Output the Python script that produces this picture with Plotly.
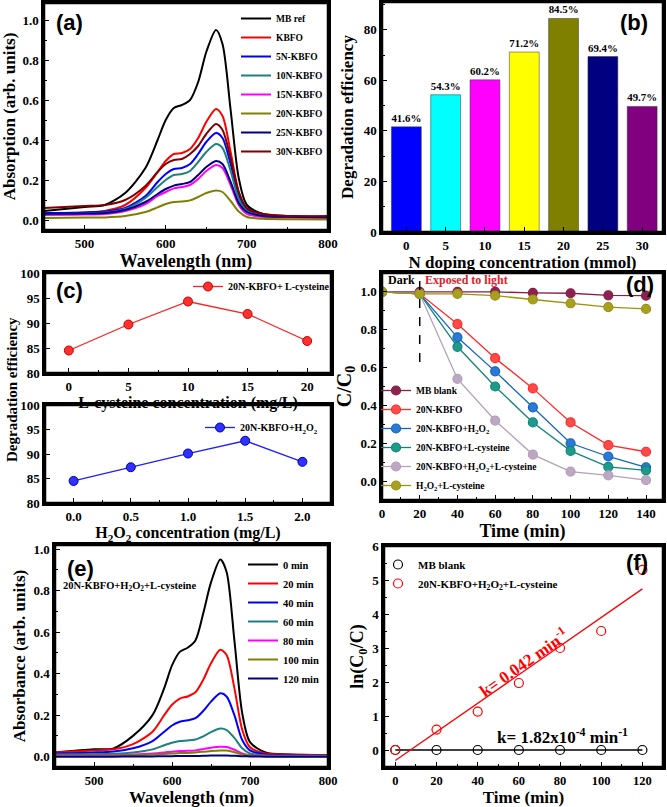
import numpy as np
import plotly.graph_objects as go

W, H = 667, 807
SERIF = "Liberation Serif"
SANS = "Liberation Sans"

# ---------------- data ----------------
# (a) UV-vis spectra of catalysts
wl = [450, 500, 525, 550, 575, 590, 600, 610, 620, 630, 640, 650, 662, 670, 680, 690, 700, 720, 750, 800]
a_names = ["MB ref", "KBFO", "5N-KBFO", "10N-KBFO", "15N-KBFO", "20N-KBFO", "25N-KBFO", "30N-KBFO"]
a_colors = ["#000000", "#FF0000", "#0000FF", "#1F8080", "#FF00FF", "#808000", "#000080", "#800000"]
a_mbref = [0.045, 0.065, 0.075, 0.135, 0.26, 0.40, 0.50, 0.56, 0.575, 0.60, 0.69, 0.84, 0.95, 0.88, 0.55, 0.21, 0.075, 0.03, 0.02, 0.015]
a_kbfo = [0.035, 0.038, 0.045, 0.075, 0.16, 0.24, 0.295, 0.33, 0.335, 0.355, 0.41, 0.49, 0.555, 0.52, 0.34, 0.14, 0.055, 0.025, 0.018, 0.015]
a_5n = [0.035, 0.038, 0.042, 0.06, 0.12, 0.19, 0.23, 0.255, 0.26, 0.28, 0.33, 0.39, 0.435, 0.41, 0.28, 0.12, 0.05, 0.022, 0.018, 0.015]
a_10n = [0.03, 0.033, 0.037, 0.055, 0.11, 0.165, 0.20, 0.225, 0.23, 0.245, 0.29, 0.34, 0.38, 0.36, 0.245, 0.105, 0.045, 0.02, 0.016, 0.014]
a_15n = [0.025, 0.027, 0.03, 0.045, 0.08, 0.12, 0.14, 0.158, 0.165, 0.175, 0.205, 0.245, 0.275, 0.26, 0.175, 0.075, 0.03, 0.015, 0.012, 0.01]
a_20n = [0.01, 0.012, 0.013, 0.02, 0.04, 0.063, 0.08, 0.09, 0.092, 0.098, 0.115, 0.135, 0.148, 0.14, 0.095, 0.042, 0.015, 0.006, 0.004, 0.003]
a_25n = [0.03, 0.032, 0.035, 0.05, 0.09, 0.13, 0.155, 0.172, 0.18, 0.19, 0.225, 0.265, 0.295, 0.28, 0.19, 0.085, 0.04, 0.02, 0.016, 0.014]
a_30n = [0.06, 0.07, 0.075, 0.10, 0.17, 0.24, 0.28, 0.30, 0.305, 0.33, 0.37, 0.43, 0.48, 0.45, 0.31, 0.14, 0.06, 0.03, 0.02, 0.02]
a_series = [a_mbref, a_kbfo, a_5n, a_10n, a_15n, a_20n, a_25n, a_30n]

# (b) degradation efficiency vs N doping
doping = ["0", "5", "10", "15", "20", "25", "30"]
efficiency = [41.6, 54.3, 60.2, 71.2, 84.5, 69.4, 49.7]
bar_colors = ["#0000FF", "#00FFFF", "#FF00FF", "#FFFF00", "#808000", "#000080", "#800080"]

# (c) effect of additives
cys_conc = [0, 5, 10, 15, 20]
cys_eff = [84.5, 89.7, 94.3, 91.8, 86.4]
h2o2_conc = [0.0, 0.5, 1.0, 1.5, 2.0]
h2o2_eff = [84.5, 87.3, 90.1, 92.7, 88.4]

# (d) kinetics C/C0
t_d = [0, 20, 40, 60, 80, 100, 120, 140]
d_names = ["MB blank", "20N-KBFO", "20N-KBFO+H<sub>2</sub>O<sub>2</sub>", "20N-KBFO+L-cysteine",
           "20N-KBFO+H<sub>2</sub>O<sub>2</sub>+L-cysteine", "H<sub>2</sub>O<sub>2</sub>+L-cysteine"]
d_blank = [1.0, 1.0, 1.0, 1.0, 0.995, 0.993, 0.982, 0.98]
d_kbfo = [1.0, 0.99, 0.83, 0.65, 0.49, 0.31, 0.19, 0.155]
d_h2o2 = [1.0, 0.99, 0.76, 0.58, 0.39, 0.20, 0.13, 0.073]
d_cys = [1.0, 0.99, 0.71, 0.50, 0.31, 0.16, 0.075, 0.057]
d_both = [1.0, 0.99, 0.54, 0.32, 0.14, 0.05, 0.03, 0.005]
d_nocat = [1.0, 0.99, 0.99, 0.98, 0.96, 0.94, 0.92, 0.91]
d_series = [d_blank, d_kbfo, d_h2o2, d_cys, d_both, d_nocat]
d_line = ["#8B1E45", "#FF2A2A", "#1565C0", "#12857A", "#B4A0B8", "#9A9410"]
d_fill = ["#8B2252", "#FF4A4A", "#2A7AD5", "#1E9A8C", "#BCA8C2", "#A8A020"]
light_on = 20

# (e) spectra over time
e_names = ["0 min", "20 min", "40 min", "60 min", "80 min", "100 min", "120 min"]
e_colors = ["#000000", "#FF0000", "#0000FF", "#1F8080", "#FF00FF", "#808000", "#000080"]
e_0 = [0.02, 0.035, 0.04, 0.10, 0.20, 0.33, 0.44, 0.505, 0.525, 0.56, 0.69, 0.84, 0.95, 0.89, 0.56, 0.21, 0.07, 0.02, 0.01, 0.008]
e_20 = [0.02, 0.03, 0.035, 0.06, 0.12, 0.20, 0.25, 0.28, 0.29, 0.31, 0.37, 0.45, 0.515, 0.49, 0.33, 0.13, 0.045, 0.015, 0.01, 0.008]
e_40 = [0.015, 0.02, 0.025, 0.04, 0.075, 0.12, 0.15, 0.168, 0.175, 0.185, 0.22, 0.265, 0.305, 0.29, 0.20, 0.08, 0.03, 0.01, 0.007, 0.006]
e_60 = [0.01, 0.012, 0.014, 0.02, 0.035, 0.055, 0.067, 0.075, 0.078, 0.083, 0.098, 0.118, 0.135, 0.128, 0.09, 0.04, 0.015, 0.006, 0.004, 0.004]
e_80 = [0.005, 0.006, 0.007, 0.01, 0.015, 0.02, 0.024, 0.027, 0.028, 0.03, 0.036, 0.043, 0.048, 0.046, 0.033, 0.015, 0.007, 0.004, 0.003, 0.003]
e_100 = [0.003, 0.004, 0.005, 0.007, 0.01, 0.013, 0.015, 0.017, 0.018, 0.02, 0.023, 0.027, 0.03, 0.029, 0.021, 0.01, 0.005, 0.003, 0.002, 0.002]
e_120 = [0.0, 0.0, 0.0, 0.001, 0.001, 0.002, 0.002, 0.003, 0.003, 0.003, 0.004, 0.005, 0.005, 0.005, 0.004, 0.002, 0.001, 0.0, 0.0, 0.0]
e_series = [e_0, e_20, e_40, e_60, e_80, e_100, e_120]

# (f) pseudo-first-order kinetics
t_f = [0, 20, 40, 60, 80, 100, 120]
f_blank = [0, 0, 0, 0, 0, 0, 0]
f_both = [0, 0.6, 1.13, 1.97, 3.0, 3.5, 5.3]

# ---------------- helpers ----------------
def xd(l, r):
    return [l / W, r / W]

def yd(t, b):
    return [1 - b / H, 1 - t / H]

tickfont = dict(family=SERIF, size=13, color="black", weight="bold")

def axis(dom, rng, title, tsize, standoff, dtick=None, minor_dtick=None, tfont=None, **kw):
    d = dict(domain=dom, range=rng, showline=True, linewidth=2.5, linecolor="#000000", mirror=True,
             ticks="inside", ticklen=5, tickwidth=1.3, tickcolor="#000000", showgrid=False, zeroline=False,
             tickfont=tfont or tickfont, automargin=False, layer="above traces",
             title=dict(text=title, font=dict(family=SERIF, size=tsize, color="black", weight="bold"),
                        standoff=standoff))
    if dtick is not None:
        d["dtick"] = dtick
    if minor_dtick is not None:
        d["minor"] = dict(ticks="inside", ticklen=3, tickwidth=1, tickcolor="#000000", dtick=minor_dtick)
    d.update(kw)
    return d

small_tick = dict(family=SERIF, size=12.5, color="black", weight="bold")

def legfont(size):
    return dict(family=SERIF, size=size, color="black", weight="bold")

fig = go.Figure()

# (a)
for name, col, ys in zip(a_names, a_colors, a_series):
    fig.add_trace(go.Scatter(x=wl, y=ys, name=name, mode="lines", line=dict(color=col, width=2, shape="spline", smoothing=0.8),
                             xaxis="x", yaxis="y", legend="legend"))

# (b)
fig.add_trace(go.Bar(x=doping, y=efficiency, marker=dict(color=bar_colors, line=dict(color="#333333", width=0.5)),
                     width=0.76, text=[f"{v}%" for v in efficiency], textposition="outside", cliponaxis=False,
                     textfont=dict(family=SERIF, size=11, color="black", weight="bold"),
                     showlegend=False, xaxis="x2", yaxis="y2"))

# (c)
fig.add_trace(go.Scatter(x=cys_conc, y=cys_eff, name="20N-KBFO+ L-cysteine", mode="lines+markers",
                         line=dict(color="#FF2020", width=1.3),
                         marker=dict(size=9, color="#FF3030", line=dict(color="#CC0000", width=1)),
                         xaxis="x3", yaxis="y3", legend="legend2"))
fig.add_trace(go.Scatter(x=h2o2_conc, y=h2o2_eff, name="20N-KBFO+H<sub>2</sub>O<sub>2</sub>", mode="lines+markers",
                         line=dict(color="#2020FF", width=1.3),
                         marker=dict(size=9, color="#3030FF", line=dict(color="#0000AA", width=1)),
                         xaxis="x4", yaxis="y4", legend="legend3"))

# (d)
for name, lc, fc, ys in zip(d_names, d_line, d_fill, d_series):
    fig.add_trace(go.Scatter(x=t_d, y=ys, name=name, mode="lines+markers", line=dict(color=lc, width=1.3),
                             marker=dict(size=9, color=fc, line=dict(color=lc, width=1.2)),
                             xaxis="x5", yaxis="y5", legend="legend4"))

# (e)
for name, col, ys in zip(e_names, e_colors, e_series):
    fig.add_trace(go.Scatter(x=wl, y=ys, name=name, mode="lines", line=dict(color=col, width=2, shape="spline", smoothing=0.8),
                             xaxis="x6", yaxis="y6", legend="legend5"))

# (f) linear fits
tf = np.array(t_f, dtype=float)
kb, bb = np.polyfit(tf, f_blank, 1)
kr, br = np.polyfit(tf, f_both, 1)
fig.add_trace(go.Scatter(x=tf, y=kb * tf + bb, mode="lines", line=dict(color="black", width=1.3),
                         showlegend=False, xaxis="x7", yaxis="y7"))
fig.add_trace(go.Scatter(x=tf, y=kr * tf + br, mode="lines", line=dict(color="#FF0000", width=1.3),
                         showlegend=False, xaxis="x7", yaxis="y7"))
fig.add_trace(go.Scatter(x=t_f, y=f_blank, name="MB blank", mode="markers",
                         marker=dict(size=9, symbol="circle-open", color="black", line=dict(width=1.2)),
                         xaxis="x7", yaxis="y7", legend="legend6"))
fig.add_trace(go.Scatter(x=t_f, y=f_both, name="20N-KBFO+H<sub>2</sub>O<sub>2</sub>+L-cysteine", mode="markers",
                         marker=dict(size=9, symbol="circle-open", color="#FF0000", line=dict(width=1.2)),
                         xaxis="x7", yaxis="y7", legend="legend6"))

# ---------------- layout ----------------
def leg(x, y, size):
    return dict(x=x / W, y=1 - y / H, xanchor="left", yanchor="top", bgcolor="rgba(0,0,0,0)",
                font=legfont(size), borderwidth=0)

layout = dict(
    width=W, height=H, margin=dict(l=0, r=0, t=0, b=0), paper_bgcolor="white", plot_bgcolor="white",
    xaxis=axis(xd(44, 328), [450, 800], "Wavelength (nm)", 18, 0, dtick=100, minor_dtick=50, anchor="y"),
    yaxis=axis(yd(3, 230), [-0.05, 1.085], "Absorption (arb. units)", 17, 4, dtick=0.2, minor_dtick=0.1,
               tickformat=".1f", anchor="x"),
    xaxis2=axis(xd(382, 663), [-0.62, 6.53], "N doping concentration (mmol)", 17, 2, anchor="y2",
                type="category"),
    yaxis2=axis(yd(2, 232), [0, 91], "Degradation efficiency", 17, 6, dtick=20, minor_dtick=10, anchor="x2"),
    xaxis3=axis(xd(45, 331), [-2, 22], "L-cysteine concentration (mg/L)", 16, 1, dtick=5, minor_dtick=2.5,
                anchor="y3"),
    yaxis3=axis(yd(273, 373), [80, 100], "", 14, 4, dtick=5, anchor="x3"),
    xaxis4=axis(xd(45, 331), [-0.25, 2.25], "H<sub>2</sub>O<sub>2</sub> concentration (mg/L)", 16, 1,
                dtick=0.5, minor_dtick=0.25, tickformat=".1f", anchor="y4"),
    yaxis4=axis(yd(405, 503), [80, 100], "", 14, 4, dtick=5, anchor="x4"),
    xaxis5=axis(xd(382, 663), [0, 149], "Time (min)", 18, 1, dtick=20, minor_dtick=10, anchor="y5"),
    yaxis5=axis(yd(273, 500), [-0.1, 1.1], "C/C<sub>0</sub>", 20, 4, dtick=0.2, minor_dtick=0.1,
                tickformat=".1f", anchor="x5"),
    xaxis6=axis(xd(55, 328), [450, 800], "Wavelength (nm)", 17, 2, dtick=100, minor_dtick=50, anchor="y6",
                tfont=small_tick),
    yaxis6=axis(yd(545, 767), [-0.05, 1.02], "Absorbance (arb. units)", 17, 4, dtick=0.2, minor_dtick=0.1,
                tickformat=".1f", anchor="x6"),
    xaxis7=axis(xd(384, 663), [-5.5, 130], "Time (min)", 17, 2, dtick=20, minor_dtick=10, anchor="y7",
                tfont=small_tick),
    yaxis7=axis(yd(546, 767), [-0.5, 6], "ln(C<sub>0</sub>/C)", 18, 4, dtick=1, minor_dtick=0.5, anchor="x7"),
    legend=leg(236, 4, 9.5),
    legend2=leg(188, 272, 10),
    legend3=leg(200, 413, 10),
    legend4=leg(376, 376, 9.5),
    legend5=leg(243, 550, 10.5),
    legend6=leg(378, 550, 11),
)
fig.update_layout(**layout)

# frames around every panel
for ax in ["", "2", "3", "4", "5", "6", "7"]:
    fig.add_shape(type="rect", xref=f"x{ax} domain", yref=f"y{ax} domain", x0=0, x1=1, y0=0, y1=1,
                  line=dict(color="#000000", width=2.5), fillcolor="rgba(0,0,0,0)", layer="above")

panel_font = dict(family=SANS, size=22, color="black", weight="bold")
anns = [
    dict(text="(a)", x=69 / W, y=1 - 22 / H),
    dict(text="(b)", x=634 / W, y=1 - 22 / H),
    dict(text="(c)", x=69 / W, y=1 - 290 / H),
    dict(text="(d)", x=640 / W, y=1 - 284 / H),
    dict(text="(e)", x=80 / W, y=1 - 568 / H),
    dict(text="(f)", x=637 / W, y=1 - 562 / H),
]
for a in anns:
    fig.add_annotation(xref="paper", yref="paper", showarrow=False, font=panel_font,
                       xanchor="center", yanchor="middle", **a)

# shared y title for (c)
fig.add_annotation(xref="paper", yref="paper", x=12 / W, y=1 - 390 / H, text="Degradation efficiency",
                   textangle=-90, showarrow=False, xanchor="center", yanchor="middle",
                   font=dict(family=SERIF, size=15, color="black", weight="bold"))

# (d) light-on marker and labels
fig.add_shape(type="line", xref="x5", yref="y5", x0=light_on, x1=light_on, y0=0.63, y1=1.1,
              line=dict(color="black", width=1.5, dash="dash"))
fig.add_annotation(xref="x5", yref="y5", x=light_on - 1.5, y=1.065, text="Dark", xanchor="right",
                   yanchor="middle", showarrow=False, font=dict(family=SERIF, size=12, color="black", weight="bold"))
fig.add_annotation(xref="x5", yref="y5", x=light_on + 2, y=1.065, text="Exposed to light", xanchor="left",
                   yanchor="middle", showarrow=False, font=dict(family=SERIF, size=12, color="#E0202A", weight="bold"))

# (e) label
fig.add_annotation(xref="x6", yref="y6", x=458, y=0.82, text="20N-KBFO+H<sub>2</sub>O<sub>2</sub>+L-cysteine",
                   xanchor="left", yanchor="middle", showarrow=False,
                   font=dict(family=SERIF, size=10.5, color="black", weight="bold"))

# (f) rate constants
fig.add_annotation(xref="x7", yref="y7", x=62, y=2.6, text=f"k= {kr:.3f} min<sup>-1</sup>", textangle=-35,
                   xanchor="center", yanchor="middle", showarrow=False,
                   font=dict(family=SERIF, size=17, color="#FF0000", weight="bold"))
fig.add_annotation(xref="x7", yref="y7", x=81, y=0.42, text="k= 1.82x10<sup>-4</sup> min<sup>-1</sup>",
                   xanchor="center", yanchor="middle", showarrow=False,
                   font=dict(family=SERIF, size=17, color="black", weight="bold"))

fig.write_html("out.html", config={"displayModeBar": False},
               post_script="document.body.style.margin='0';document.body.style.padding='0';")
